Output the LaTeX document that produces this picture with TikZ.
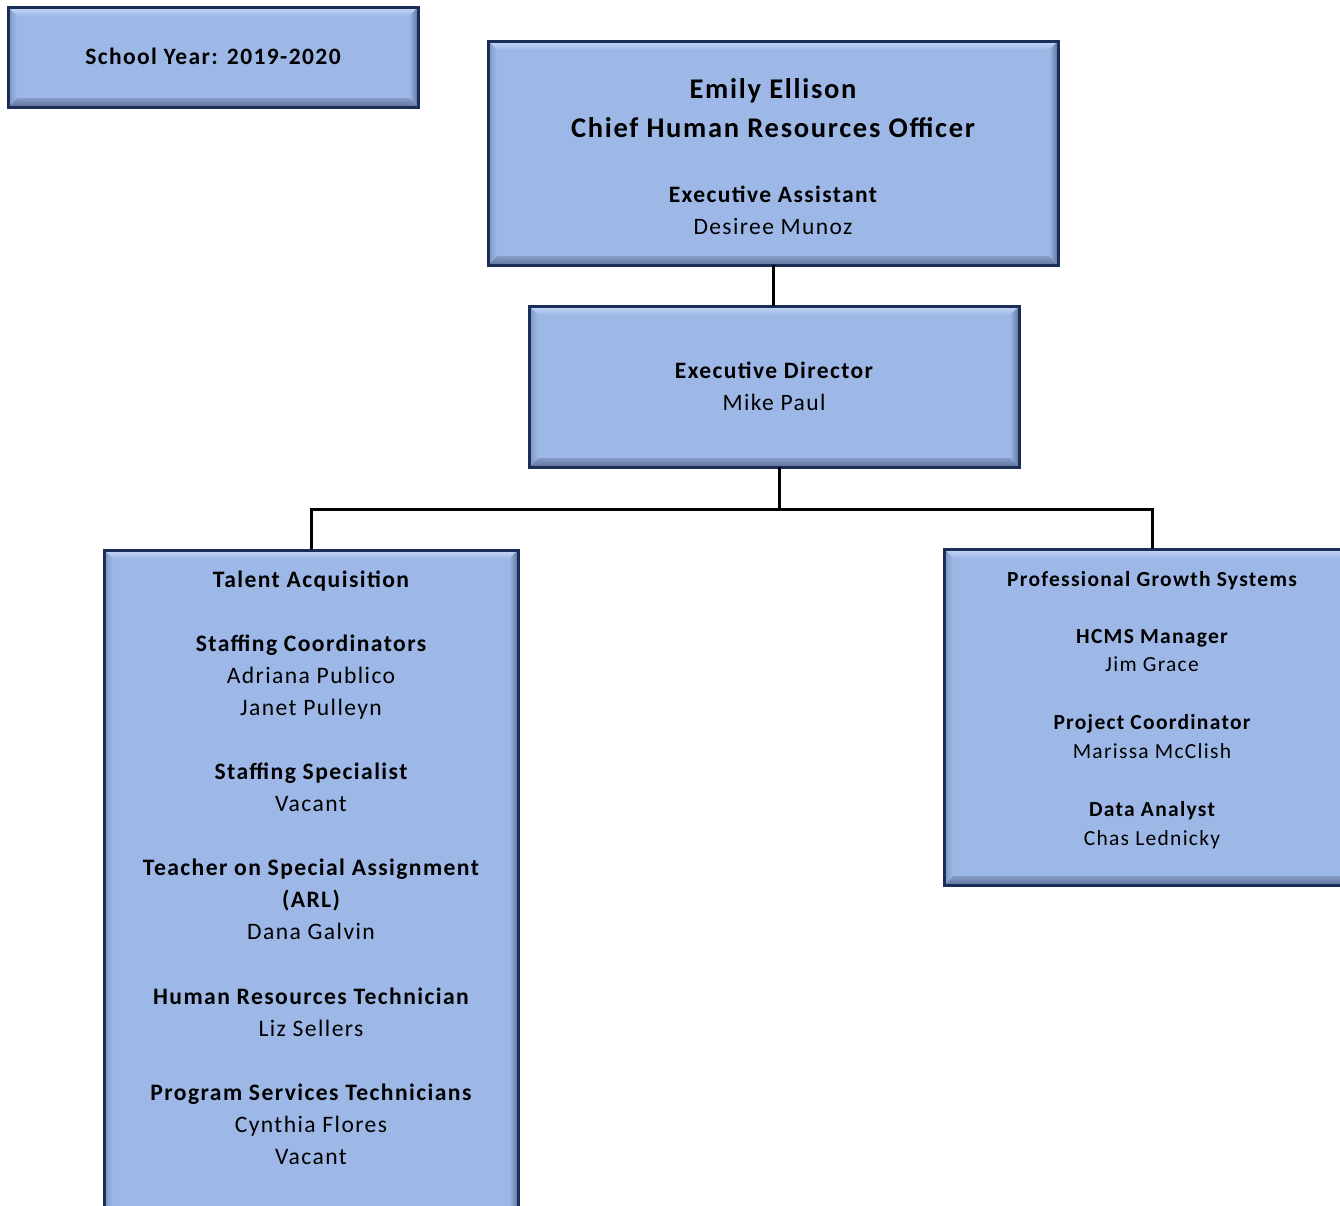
\documentclass[tikz,border=0pt]{standalone}
\usepackage{fontspec}
\setmainfont{Carlito}
\newfontfamily\spfont[LetterSpace=6]{Carlito}
\definecolor{boxfill}{RGB}{157,184,231}
\definecolor{navy}{RGB}{26,46,88}
\definecolor{bevlight}{RGB}{200,216,245}
\definecolor{bevdark}{RGB}{95,115,155}
\definecolor{bevleft}{RGB}{125,148,192}
\tikzset{
  bevbox/.style={rectangle, draw=navy, line width=3pt, fill=boxfill, inner sep=0pt, outer sep=0pt,
    path picture={
      \def\bw{9pt}
      \coordinate (pnw) at (path picture bounding box.north west);
      \coordinate (pne) at (path picture bounding box.north east);
      \coordinate (psw) at (path picture bounding box.south west);
      \coordinate (pse) at (path picture bounding box.south east);
      \shade[top color=bevlight, bottom color=boxfill] (pnw) -- (pne) -- ([xshift=-\bw,yshift=-\bw]pne) -- ([xshift=\bw,yshift=-\bw]pnw) -- cycle;
      \shade[top color=boxfill!85!black, bottom color=bevdark] (psw) -- (pse) -- ([xshift=-\bw,yshift=\bw]pse) -- ([xshift=\bw,yshift=\bw]psw) -- cycle;
      \shade[left color=bevleft, right color=boxfill] (pnw) -- (psw) -- ([xshift=\bw,yshift=\bw]psw) -- ([xshift=\bw,yshift=-\bw]pnw) -- cycle;
      \shade[left color=boxfill, right color=bevdark] (pne) -- (pse) -- ([xshift=-\bw,yshift=\bw]pse) -- ([xshift=-\bw,yshift=-\bw]pne) -- cycle;
    }},
  conn/.style={line width=3pt, black},
  hd/.style={anchor=base, inner sep=0pt, font=\spfont\fontsize{#1}{#1}\selectfont\bfseries},
  nm/.style={anchor=base, inner sep=0pt, font=\spfont\fontsize{#1}{#1}\selectfont},
}
\begin{document}
\begin{tikzpicture}[x=1pt,y=-1pt]
\clip (0,0) rectangle (1340,1205);
\fill[white] (0,0) rectangle (1340,1205);

% boxes
\node[bevbox, minimum width=410pt, minimum height=100pt] (sy) at (213,57) {};
\node[bevbox, minimum width=570pt, minimum height=224pt] (ceo) at (773,153) {};
\node[bevbox, minimum width=490pt, minimum height=161pt] (ed) at (774,386.5) {};
\node[bevbox, minimum width=414pt, minimum height=665pt] (ta) at (311,882.5) {};
\node[bevbox, minimum width=416pt, minimum height=336pt] (pgs) at (1152,717) {};

% connectors
\coordinate (j) at (779,509);
\draw[conn] (ceo.south) -- (ceo.south |- ed.north);
\draw[conn] (ed.south -| j) -- (j);
\draw[conn] (ta.north) |- (j) -| (pgs.north);

% texts
\node[hd=23.5] (sy1) at (213,64.5) {School Year: 2019-2020};

\node[hd=28.5] (c1) at (773,98) {Emily Ellison};
\node[hd=28.5] (c2) at (773,137) {Chief Human Resources Officer};
\node[hd=23.5] (c3) at (773,202.5) {Executive Assistant};
\node[nm=23.5] (c4) at (773,234.5) {Desiree Munoz};

\node[hd=23.5] (e1) at (774,378.5) {Executive Director};
\node[nm=23.5] (e2) at (774,410.5) {Mike Paul};

\node[hd=23.6] (t1) at (311,587.5) {Talent Acquisition};
\node[hd=23.6] (t2) at (311,651.5) {Staffing Coordinators};
\node[nm=23.6] (t3) at (311,683.5) {Adriana Publico};
\node[nm=23.6] (t4) at (311,715.5) {Janet Pulleyn};
\node[hd=23.6] (t5) at (311,779.5) {Staffing Specialist};
\node[nm=23.6] (t6) at (311,811.5) {Vacant};
\node[hd=23.6] (t7) at (311,875.5) {Teacher on Special Assignment};
\node[hd=23.6] (t8) at (311,907.5) {(ARL)};
\node[nm=23.6] (t9) at (311,939.5) {Dana Galvin};
\node[hd=23.6] (t10) at (311,1004.5) {Human Resources Technician};
\node[nm=23.6] (t11) at (311,1036.5) {Liz Sellers};
\node[hd=23.6] (t12) at (311,1100.5) {Program Services Technicians};
\node[nm=23.6] (t13) at (311,1132.5) {Cynthia Flores};
\node[nm=23.6] (t14) at (311,1164.5) {Vacant};

\node[hd=21.5] (p1) at (1152,586) {Professional Growth Systems};
\node[hd=21.5] (p2) at (1152,643) {HCMS Manager};
\node[nm=21.5] (p3) at (1152,671) {Jim Grace};
\node[hd=21.5] (p4) at (1152,729) {Project Coordinator};
\node[nm=21.5] (p5) at (1152,758) {Marissa McClish};
\node[hd=21.5] (p6) at (1152,816) {Data Analyst};
\node[nm=21.5] (p7) at (1152,845) {Chas Lednicky};
\end{tikzpicture}
\end{document}
